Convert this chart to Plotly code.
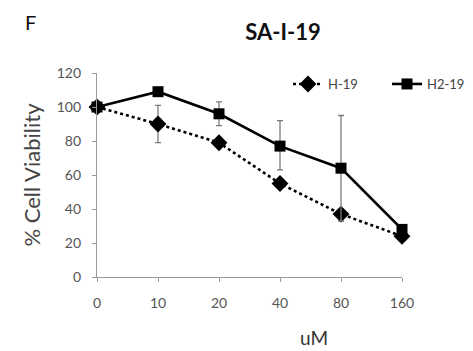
import plotly.graph_objects as go

# Concentrations (uM) and viability data
doses = ["0", "10", "20", "40", "80", "160"]
h19_values = [100, 90, 79, 55, 37, 24]
h19_err_plus = [0, 11, 2, 2, 2, 1]
h19_err_minus = [0, 11, 2, 2, 4, 1]
h219_values = [100, 109, 96, 77, 64, 28]
h219_err_plus = [0, 0, 7, 15, 31, 1]
h219_err_minus = [0, 0, 7, 14, 31, 1]

y_ticks = [0, 20, 40, 60, 80, 100, 120]

FONT = "Lato, Open Sans, sans-serif"
ERR_COLOR = "#7a7a7a"

# plot area in pixels: x 97..402, y 73..277
L, R, T, B = 97, 71, 73, 74
PW, PH = 473 - L - R, 351 - T - B

fig = go.Figure()

fig.add_trace(go.Scatter(
    x=doses, y=h19_values, name="H-19", mode="lines+markers",
    line=dict(color="black", width=2.6, dash="dot"),
    marker=dict(symbol="diamond", size=13, color="black"),
    error_y=dict(type="data", array=h19_err_plus, arrayminus=h19_err_minus,
                 color=ERR_COLOR, thickness=1.3, width=3),
    cliponaxis=False,
))

fig.add_trace(go.Scatter(
    x=doses, y=h219_values, name="H2-19", mode="lines+markers",
    line=dict(color="black", width=2.6),
    marker=dict(symbol="square", size=11, color="black"),
    error_y=dict(type="data", array=h219_err_plus, arrayminus=h219_err_minus,
                 color=ERR_COLOR, thickness=1.3, width=3),
    cliponaxis=False,
))

fig.update_layout(
    width=473, height=351,
    margin=dict(l=L, r=R, t=T, b=B, autoexpand=False),
    paper_bgcolor="white", plot_bgcolor="white",
    font=dict(family=FONT, color="#444"),
    title=dict(text="<b>SA-I-19</b>", x=283 / 473, xanchor="center",
               y=1 - 32 / 351, yanchor="middle",
               font=dict(size=22, color="#111", family=FONT)),
    showlegend=True,
    legend=dict(orientation="h", x=(288 - L) / PW, y=(277 - 69) / PH,
                xanchor="left", yanchor="top",
                font=dict(size=13, color="#444"), bgcolor="rgba(0,0,0,0)",
                entrywidth=54, entrywidthmode="pixels"),
    annotations=[
        dict(text="F", x=(30 - L) / PW, y=(277 - 22) / PH,
             xref="paper", yref="paper",
             showarrow=False, xanchor="center", yanchor="middle",
             font=dict(size=20, color="#111", family=FONT)),
        # x-axis title, set right of centre
        dict(text="uM", x=(314 - L) / PW, y=(277 - 337) / PH,
             xref="paper", yref="paper",
             showarrow=False, xanchor="center", yanchor="middle",
             font=dict(size=19, color="#333", family=FONT)),
    ],
)

fig.update_xaxes(
    type="category", range=[0, 5],
    showline=True, linecolor="#9a9a9a", linewidth=1.2,
    ticks="outside", ticklen=4, tickcolor="#9a9a9a",
    showgrid=False, zeroline=False,
    tickfont=dict(size=14, color="#555"), ticklabelstandoff=9,
)

fig.update_yaxes(
    range=[0, 120], tickvals=y_ticks,
    showline=True, linecolor="#9a9a9a", linewidth=1.2,
    ticks="outside", ticklen=4, tickcolor="#9a9a9a",
    showgrid=False, zeroline=False,
    tickfont=dict(size=14, color="#555"), ticklabelstandoff=8,
    title=dict(text="% Cell Viability", font=dict(size=22, color="#444"), standoff=10),
)

fig.write_html("out.html")
